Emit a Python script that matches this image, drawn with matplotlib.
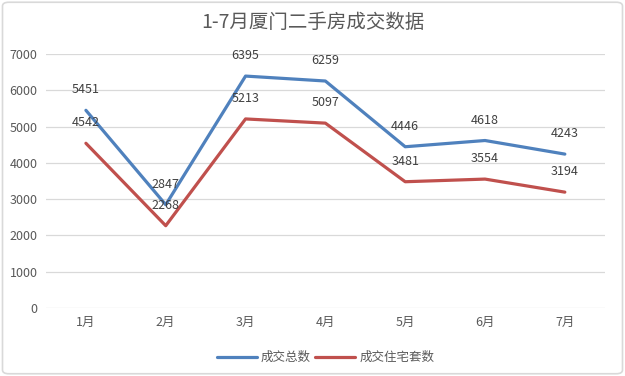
import matplotlib
matplotlib.use("Agg")
import matplotlib.pyplot as plt
from matplotlib.patches import FancyBboxPatch

plt.rcParams['font.family'] = ['Noto Sans CJK SC', 'DejaVu Sans']

# Data
months = ["1月", "2月", "3月", "4月", "5月", "6月", "7月"]
total = [5451, 2847, 6395, 6259, 4446, 4618, 4243]
housing = [4542, 2268, 5213, 5097, 3481, 3554, 3194]

BLUE = "#4F81BD"
RED = "#C0504D"
TXT = "#595959"

fig = plt.figure(figsize=(6.25, 3.76), dpi=100)
ax = fig.add_axes([0.0736, 0.181, 0.894, 0.675])

x = list(range(len(months)))
ax.plot(x, total, color=BLUE, linewidth=2.3, label="成交总数", solid_capstyle='round')
ax.plot(x, housing, color=RED, linewidth=2.3, label="成交住宅套数", solid_capstyle='round')

for xi, v in zip(x, total):
    ax.annotate(str(v), (xi, v), xytext=(0, 10), textcoords='offset points',
                ha='center', va='bottom', fontsize=9, color="#404040")
for xi, v in zip(x, housing):
    ax.annotate(str(v), (xi, v), xytext=(0, 10), textcoords='offset points',
                ha='center', va='bottom', fontsize=9, color="#404040")

ax.set_xlim(-0.5, len(months) - 0.5)
ax.set_ylim(0, 7000)
ax.set_yticks(range(0, 7001, 1000))
ax.set_xticks(x)
ax.set_xticklabels(months)
ax.grid(axis='y', color="#D9D9D9", linewidth=0.9)
ax.set_axisbelow(True)
for s in ax.spines.values():
    s.set_visible(False)
ax.tick_params(axis='both', length=0, labelsize=9, colors=TXT, pad=6)

fig.text(0.5, 0.94, "1-7月厦门二手房成交数据", ha='center', va='center',
         fontsize=14, color=TXT)

ax.legend(loc='center', bbox_to_anchor=(0.5, -0.195), ncol=2, frameon=False,
          fontsize=9, labelcolor=TXT, handlelength=3.2, columnspacing=0.4,
          handletextpad=0.3)

border = FancyBboxPatch((0.004, 0.006), 0.992, 0.988, boxstyle="round,pad=0,rounding_size=0.01",
                        transform=fig.transFigure, facecolor='none',
                        edgecolor="#D9D9D9", linewidth=1.2)
fig.patches.append(border)

fig.savefig("out.png", dpi=100)
plt.close()
